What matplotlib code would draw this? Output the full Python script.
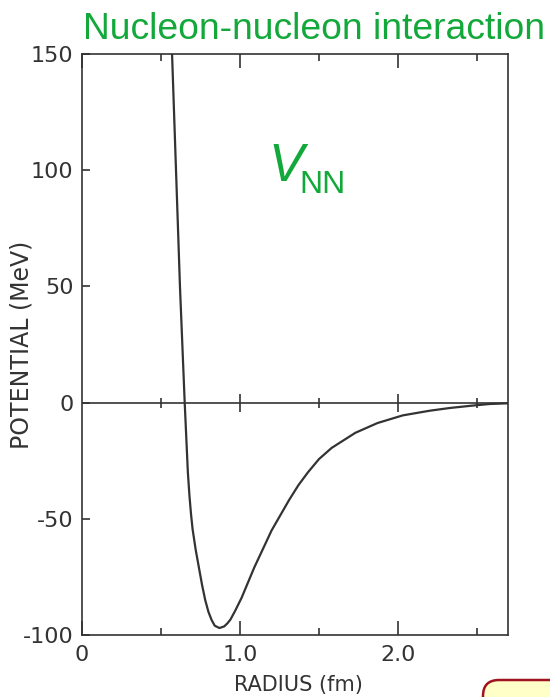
import matplotlib
matplotlib.use("Agg")
import matplotlib.pyplot as plt
import matplotlib.font_manager as fm
from matplotlib.patches import FancyBboxPatch
from matplotlib.ticker import FixedLocator, FixedFormatter

# Nucleon-nucleon potential V(r)
radius_fm = [0.57, 0.595, 0.62, 0.65, 0.67, 0.68, 0.69, 0.70, 0.72, 0.74,
             0.76, 0.78, 0.80, 0.82, 0.84, 0.87, 0.90, 0.92, 0.94, 0.97,
             1.01, 1.05, 1.09, 1.20, 1.31, 1.37, 1.43, 1.50, 1.58, 1.73,
             1.87, 2.03, 2.20, 2.33, 2.47, 2.58, 2.70]
potential_mev = [150, 100, 50, 0, -30, -40, -48, -54.5, -63.5, -71,
                 -78.5, -85, -90, -93.5, -96, -97, -96.3, -95, -93.3, -89.5,
                 -84, -77.5, -71, -55, -42, -35.5, -30, -24.3, -19.5, -13,
                 -8.8, -5.5, -3.5, -2.3, -1.3, -0.6, -0.3]

x_major = [0.0, 1.0, 2.0]
x_major_labels = ["0", "1.0", "2.0"]
x_minor = [0.5, 1.5, 2.5]
y_ticks = [-100, -50, 0, 50, 100, 150]
y_tick_labels = ["-100", "-50", "0", "50", "100", "150"]

title_text = "Nucleon-nucleon interaction"
x_label = "RADIUS (fm)"
y_label = "POTENTIAL (MeV)"

installed = {f.name for f in fm.fontManager.ttflist}
scan_font = "Liberation Sans Narrow" if "Liberation Sans Narrow" in installed else "DejaVu Sans"
slide_font = "Liberation Sans" if "Liberation Sans" in installed else "DejaVu Sans"

ink = "#333333"
green = "#12A83A"

W, H = 550, 697
fig = plt.figure(figsize=(W / 100, H / 100), dpi=100)
fig.patch.set_facecolor("white")

left, right, top, bottom = 82, 508, 54, 635
ax = fig.add_axes([left / W, 1 - bottom / H, (right - left) / W, (bottom - top) / H])

ax.plot(radius_fm, potential_mev, color=ink, lw=1.6, solid_joinstyle="round",
        solid_capstyle="round")
ax.axhline(0, color=ink, lw=1.2)
# cross ticks sitting on the zero line
ax.plot(x_major[1:], [0] * len(x_major[1:]), ls="none", marker="|", ms=13, mew=1.2, color=ink)
ax.plot(x_minor, [0] * len(x_minor), ls="none", marker="|", ms=6.5, mew=1.2, color=ink)

ax.set_xlim(0, (right - left) / 158.0)
ax.set_ylim(-100, 150)

ax.xaxis.set_major_locator(FixedLocator(x_major))
ax.xaxis.set_major_formatter(FixedFormatter(x_major_labels))
ax.xaxis.set_minor_locator(FixedLocator(x_minor))
ax.yaxis.set_major_locator(FixedLocator(y_ticks))
ax.yaxis.set_major_formatter(FixedFormatter(y_tick_labels))

for s in ax.spines.values():
    s.set_color(ink)
    s.set_linewidth(1.2)

ax.tick_params(axis="x", which="major", direction="in", top=True, bottom=True,
               length=10, width=1.2, color=ink, pad=7, labelsize=16, labelcolor=ink)
ax.tick_params(axis="x", which="minor", direction="in", top=True, bottom=True,
               length=5, width=1.2, color=ink)
ax.tick_params(axis="y", which="major", direction="in", left=True, right=False,
               length=6, width=1.2, color=ink, pad=6, labelsize=16, labelcolor=ink)
for lab in ax.get_xticklabels() + ax.get_yticklabels():
    lab.set_fontfamily(scan_font)

ax.set_xlabel(x_label, fontsize=15, color=ink, fontfamily=scan_font, va="center")
ax.xaxis.set_label_coords((298 - left) / (right - left), (bottom - 685) / (bottom - top))
ax.set_ylabel(y_label, fontsize=17, color=ink, fontfamily=scan_font, va="center")
ax.yaxis.set_label_coords((22 - left) / (right - left), (bottom - 345) / (bottom - top))

# slide annotations
fig.text(83 / W, 1 - 38.6 / H, title_text, color=green, fontsize=26.8,
         fontfamily=slide_font, ha="left", va="baseline")
fig.text(268 / W, 1 - 181 / H, "V", color=green, fontsize=38,
         fontfamily=slide_font, fontstyle="italic", ha="left", va="baseline")
fig.text(299 / W, 1 - 193 / H, "NN", color=green, fontsize=23,
         fontfamily=slide_font, ha="left", va="baseline")

# callout box peeking in at the lower right corner
box = FancyBboxPatch((4.83, -0.6), 1.5, 0.6 + (H - 680) / 100,
                     boxstyle="round,pad=0,rounding_size=0.16",
                     transform=fig.dpi_scale_trans, facecolor="#FFFFC8",
                     edgecolor="#A0141E", lw=1.8)
fig.patches.append(box)

fig.savefig("out.png", dpi=100, facecolor="white")
